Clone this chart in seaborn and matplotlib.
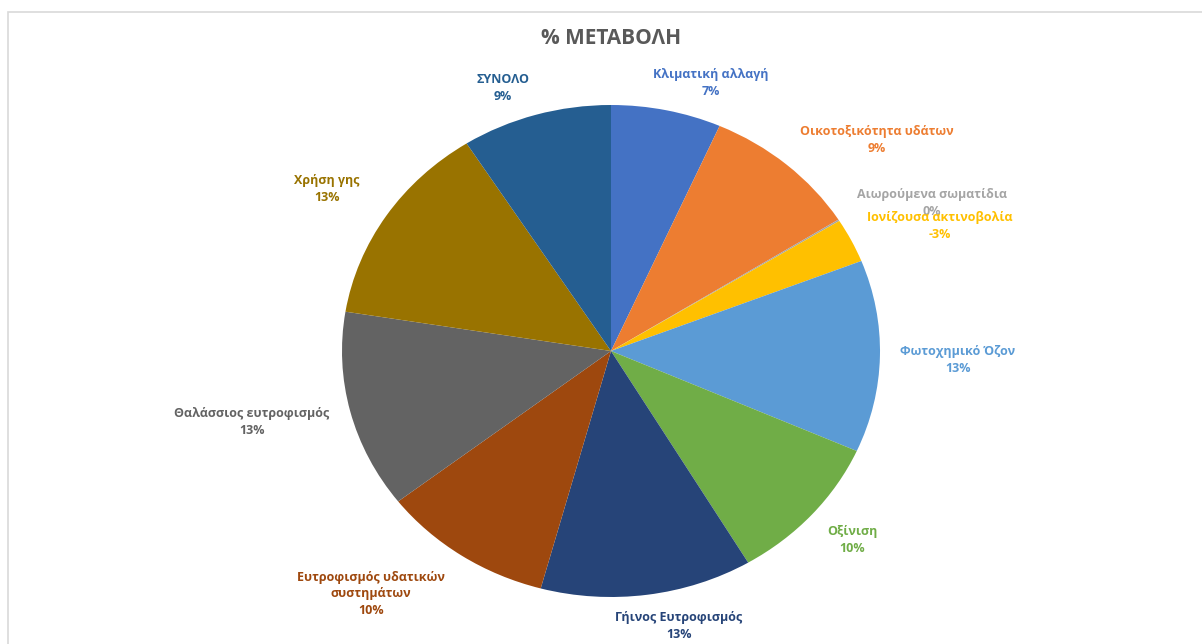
import matplotlib
matplotlib.use("Agg")
import matplotlib.pyplot as plt
import seaborn as sns
from matplotlib.patches import Rectangle

# ---- data ----
categories = ["Κλιματική αλλαγή", "Οικοτοξικότητα υδάτων", "Αιωρούμενα σωματίδια",
              "Ιονίζουσα ακτινοβολία", "Φωτοχημικό Όζον", "Οξίνιση",
              "Γήινος Ευτροφισμός", "Ευτροφισμός υδατικών\nσυστημάτων",
              "Θαλάσσιος ευτροφισμός", "Χρήση γης", "ΣΥΝΟΛΟ"]
values = [6.6, 9.4, 0.1, 2.9, 12.6, 9.8, 12.7, 10.3, 13.0, 13.4, 9.0]
pct_labels = ["7%", "9%", "0%", "-3%", "13%", "10%", "13%", "10%", "13%", "13%", "9%"]
colors = ["#4472C4", "#ED7D31", "#A5A5A5", "#FFC000", "#5B9BD5", "#70AD47",
          "#264478", "#9E480E", "#636363", "#997300", "#255E91"]

# ---- layout (label anchor positions in pixel coords of the 1202x644 canvas) ----
W, H = 1202, 644
label_px = [(711, 83), (877, 140), (932, 203), (940, 226), (958, 360), (852, 540),
            (679, 626), (371, 594), (252, 422), (327, 189), (503, 88)]

sns.set_theme(style="white")
plt.rcParams['font.family'] = ['Open Sans', 'DejaVu Sans']

fig = plt.figure(figsize=(W / 100, H / 100), dpi=100)
fig.patch.set_facecolor("white")

# outer chart border
fig.patches.append(Rectangle((8 / W, -0.1), 1.2, (644 - 12) / H + 0.1,
                             transform=fig.transFigure, fill=False,
                             edgecolor="#D9D9D9", linewidth=1.2))

cx0, cx1, cy0, cy1 = 342, 880, 105, 597
ax = fig.add_axes([cx0 / W, (H - cy1) / H, (cx1 - cx0) / W, (cy1 - cy0) / H])
ax.pie(values, colors=sns.color_palette(colors), startangle=90, counterclock=False,
       radius=1, wedgeprops=dict(linewidth=0))
ax.set_aspect("auto")
ax.set_xlim(-1, 1)
ax.set_ylim(-1, 1)
ax.axis("off")

for name, pct, col, (px, py) in zip(categories, pct_labels, colors, label_px):
    fig.text(px / W, 1 - py / H, f"{name}\n{pct}", ha="center", va="center",
             color=col, fontsize=9, fontweight="bold", linespacing=1.35)

fig.text(611 / W, 1 - 38 / H, "% ΜΕΤΑΒΟΛΗ", ha="center", va="center",
         color="#595959", fontsize=15, fontweight="bold")

fig.savefig("out.png", dpi=100, facecolor="white")
